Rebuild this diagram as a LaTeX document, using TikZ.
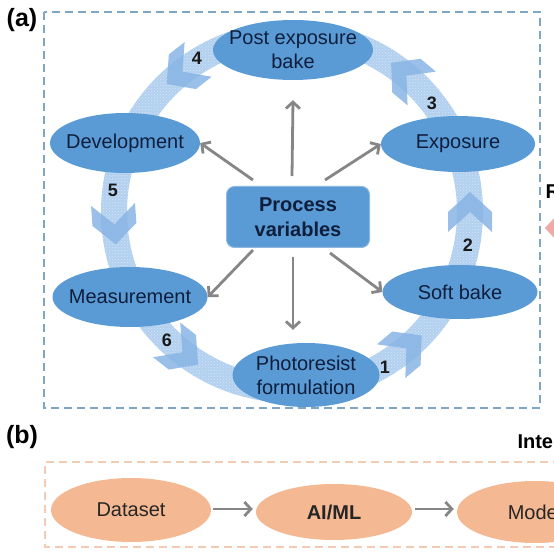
\documentclass[tikz,border=0pt]{standalone}
\usepackage{fontspec}
\setmainfont{Liberation Sans}
\usepackage{tikz}
\usetikzlibrary{shapes.geometric,arrows.meta,patterns}

\definecolor{cellblue}{HTML}{5B9BD5}
\definecolor{navytext}{HTML}{0F1E3C}
\definecolor{bandblue}{HTML}{B2D0EF}
\definecolor{chevblue}{HTML}{88B4E4}
\definecolor{frameblue}{HTML}{7FA6C2}
\definecolor{peachfill}{HTML}{F4B892}
\definecolor{peachframe}{HTML}{F2CBB2}
\definecolor{arrowgray}{HTML}{868686}
\definecolor{pinkhead}{HTML}{F0A8A8}

\begin{document}
\begin{tikzpicture}[x=1pt,y=1pt,font=\fontsize{20}{24}\selectfont]
    \tikzstyle{cell}=[ellipse,fill=cellblue,text=navytext,align=center,inner xsep=-10pt,inner ysep=-2pt]
    \tikzstyle{peach}=[ellipse,fill=peachfill,text=black!85,align=center,inner xsep=-10pt,inner ysep=-2pt]
    \tikzstyle{garrow}=[draw=arrowgray,line width=2.8pt,-{Straight Barb[length=6.5pt,width=14pt]}]
    \tikzstyle{num}=[font=\fontsize{18}{20}\selectfont\bfseries,text=black!90]
    \tikzstyle{tag}=[font=\fontsize{25}{27}\selectfont\bfseries]

    \useasboundingbox (0,0) rectangle (554,555);
    \clip (0,0) rectangle (554,555);

    % panel (a)
    \node[tag] (taga) at (22,535) {(a)};
    \draw[frameblue,line width=2pt,dash pattern=on 8pt off 5pt] (44,543) rectangle (540,147);

    % cycle band
    \coordinate (ring) at (292,343);
    \fill[bandblue,even odd rule] (ring) circle (191) (ring) circle (165);
    \fill[pattern=crosshatch dots,pattern color=white,opacity=0.45,even odd rule] (ring) circle (191) (ring) circle (165);
    \foreach \a in {-50,0,50,128,184,232}
      \fill[chevblue,opacity=0.85,shift={(ring)},rotate=\a]
        (156,-20) -- (156,0) -- (178,20) -- (200,0) -- (200,-20) -- (178,0) -- cycle;

    \node[cell,minimum width=160pt,minimum height=60pt] (post) at (293,505) {Post exposure\\bake};
    \node[cell,minimum width=154pt,minimum height=56pt] (expo) at (458,411) {Exposure};
    \node[cell,minimum width=150pt,minimum height=60pt] (devel) at (125,412) {Development};
    \node[cell,minimum width=155pt,minimum height=54pt] (soft) at (460,263) {Soft bake};
    \node[cell,minimum width=155pt,minimum height=60pt] (meas) at (130,258) {Measurement};
    \node[cell,minimum width=147pt,minimum height=64pt] (photo) at (306,180) {Photoresist\\formulation};

    \node[rectangle,rounded corners=8pt,fill=cellblue,draw=cellblue!70!white,line width=1pt,
          minimum width=143pt,minimum height=61pt,align=center,text=navytext,
          font=\fontsize{20}{25}\selectfont\bfseries] (pv) at (298,338) {Process\\variables};

    \node[num] (n1) at (385,188) {1};
    \node[num] (n2) at (468,310) {2};
    \node[num] (n3) at (432,452) {3};
    \node[num] (n4) at (197,497) {4};
    \node[num] (n5) at (113,365) {5};
    \node[num] (n6) at (167,215) {6};

    \draw[garrow] ([xshift=-6pt,yshift=10pt]pv.north) -- ([yshift=-20pt]post.south);
    \draw[garrow] ([xshift=27pt,yshift=6pt]pv.north) -- (expo.west);
    \draw[garrow] ([xshift=-45pt,yshift=6pt]pv.north) -- (devel.east);
    \draw[garrow] ([xshift=32pt,yshift=-5pt]pv.south) -- (soft.west);
    \draw[garrow] ([xshift=-45pt,yshift=-2pt]pv.south) -- (meas.east);
    \draw[garrow] ([xshift=-5pt,yshift=-9pt]pv.south) -- ([xshift=-13pt,yshift=13pt]photo.north);

    % right neighbour, cut off
    \node[anchor=west,font=\fontsize{20}{24}\selectfont\bfseries] (rlbl) at (542,363) {R};
    \fill[pinkhead] (545,327) -- (558,341) -- (558,313) -- cycle;

    % panel (b)
    \node[tag] (tagb) at (22,118) {(b)};
    \node[anchor=west,font=\fontsize{20}{24}\selectfont\bfseries] (intel) at (514,112) {Intelligent};
    \draw[peachframe,line width=2pt,dash pattern=on 8pt off 5pt] (600,93) -- (45,93) -- (45,8) -- (600,8);

    \node[peach,minimum width=160pt,minimum height=64pt] (data) at (131,45) {Dataset};
    \node[peach,minimum width=156pt,minimum height=56pt,font=\fontsize{20}{24}\selectfont\bfseries] (aiml) at (334,43) {AI/ML};
    \node[peach,minimum width=156pt,minimum height=62pt] (model) at (535,43) {Model};

    \draw[garrow] ([xshift=2pt,yshift=1pt]data.east) -- ([xshift=-3pt,yshift=3pt]aiml.west);
    \draw[garrow] ([xshift=3pt,yshift=3pt]aiml.east) -- ([xshift=-3pt,yshift=3pt]model.west);
\end{tikzpicture}
\end{document}
